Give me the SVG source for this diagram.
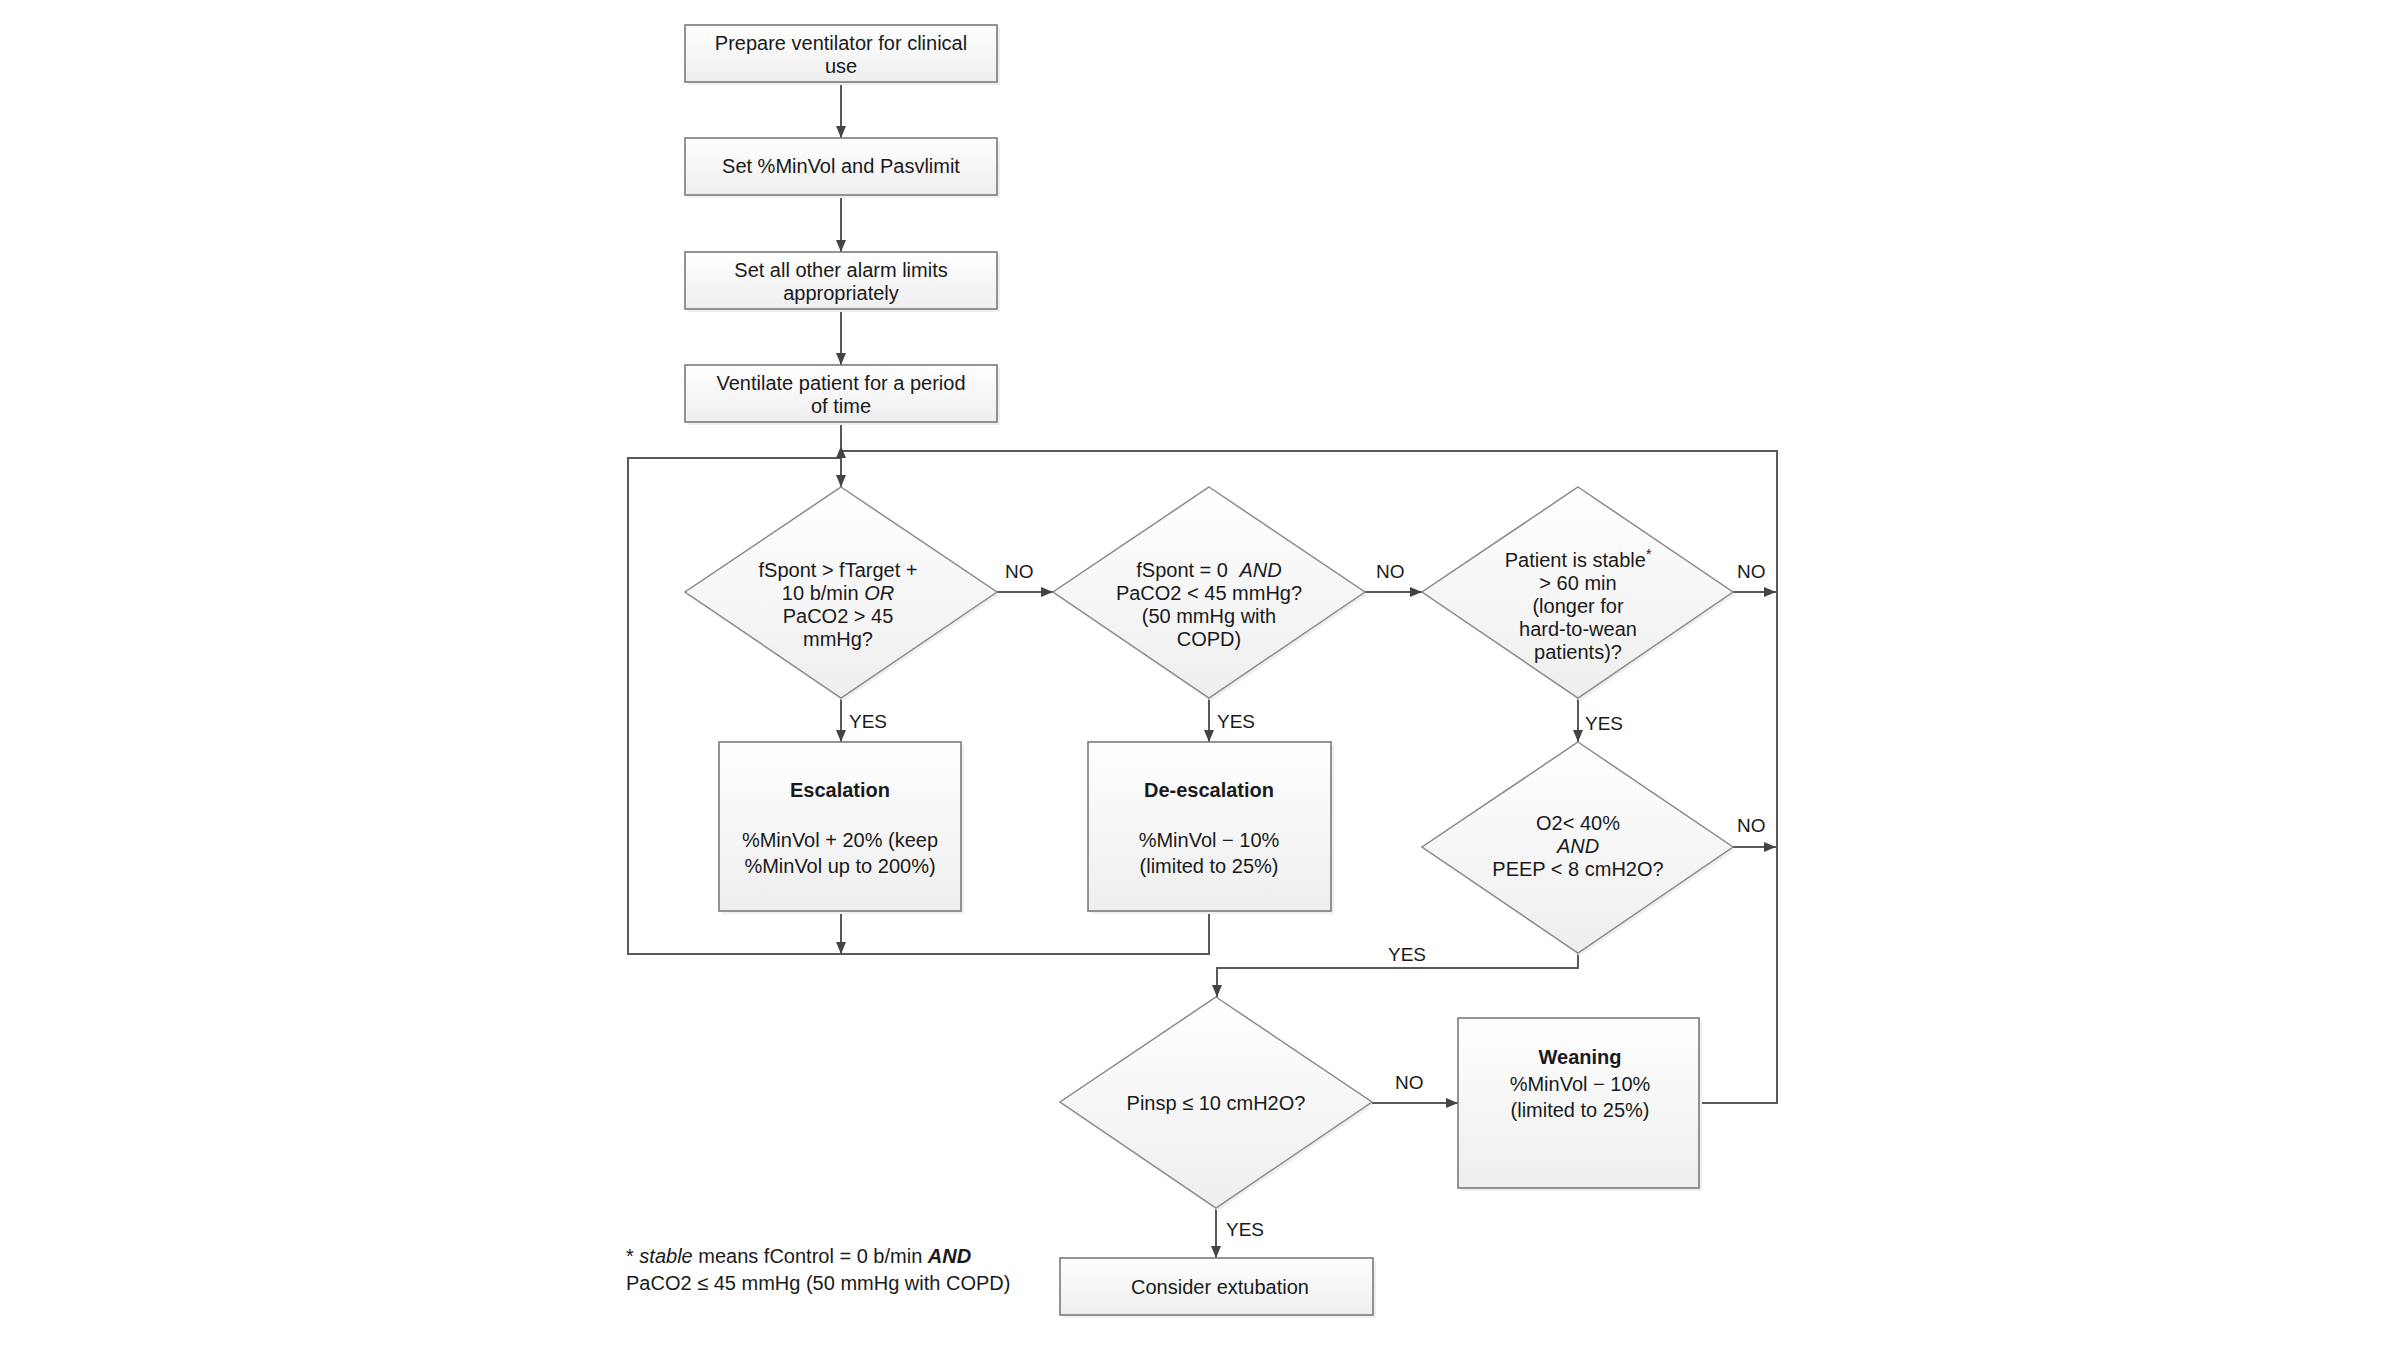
<svg xmlns="http://www.w3.org/2000/svg" width="2400" height="1350" viewBox="0 0 2400 1350">
<defs>
<linearGradient id="g" x1="0" y1="0" x2="0" y2="1">
<stop offset="0" stop-color="#ffffff"/>
<stop offset="1" stop-color="#eeeeee"/>
</linearGradient>
<marker id="ah" markerUnits="userSpaceOnUse" viewBox="0 0 12 10" refX="12" refY="5" markerWidth="12" markerHeight="10" orient="auto">
<path d="M0,0 L12,5 L0,10 z" fill="#444444"/>
</marker>
<style>
.box{fill:url(#g);stroke:#7a7a7a;stroke-width:1.6}
.dia{fill:url(#g);stroke:#8a8a8a;stroke-width:1.5}
.sh{fill:#efefef}
.t{font-family:"Liberation Sans",Arial,sans-serif;font-size:20px;fill:#1a1a1a;text-anchor:middle}
.b{font-weight:bold}
.i{font-style:italic}
.lbl{font-family:"Liberation Sans",Arial,sans-serif;font-size:19px;fill:#1a1a1a}
.fn{font-family:"Liberation Sans",Arial,sans-serif;font-size:20px;fill:#1a1a1a}
.c{fill:none;stroke:#595959;stroke-width:2}
.ca{fill:none;stroke:#595959;stroke-width:2;marker-end:url(#ah)}
</style>
</defs>
<rect width="2400" height="1350" fill="#ffffff"/>

<g id="connectors">
<path class="ca" d="M841,82 V138"/>
<path class="ca" d="M841,195 V252"/>
<path class="ca" d="M841,308 V365"/>
<path class="ca" d="M841,422 V487"/>
<path class="c" d="M1209,911 V954 H628 V458 H841"/>
<path class="ca" d="M841,911 V954"/>
<path class="ca" d="M841,698 V742"/>
<path class="ca" d="M1209,698 V742"/>
<path class="ca" d="M997,592 H1053"/>
<path class="ca" d="M1365,592 H1422"/>
<path class="ca" d="M1733,592 H1776"/>
<path class="ca" d="M1733,847 H1776"/>
<path class="ca" d="M1578,698 V742"/>
<path class="ca" d="M1578,953 V968 H1217 V997"/>
<path class="ca" d="M1372,1103 H1458"/>
<path class="ca" d="M1216,1208 V1258"/>
<path class="ca" d="M1699,1103 H1777 V451 H841 V446"/>
<text class="lbl" x="1005" y="578">NO</text>
<text class="lbl" x="1376" y="578">NO</text>
<text class="lbl" x="1737" y="578">NO</text>
<text class="lbl" x="1737" y="832">NO</text>
<text class="lbl" x="1395" y="1089">NO</text>
<text class="lbl" x="849" y="728">YES</text>
<text class="lbl" x="1217" y="728">YES</text>
<text class="lbl" x="1585" y="730">YES</text>
<text class="lbl" x="1388" y="961">YES</text>
<text class="lbl" x="1226" y="1236">YES</text>
</g>

<g id="n_prepare">
<rect class="sh" x="688" y="28" width="312" height="57"/>
<rect class="box" x="685" y="25" width="312" height="57"/>
<text class="t" x="841" y="50">Prepare ventilator for clinical</text>
<text class="t" x="841" y="73">use</text>
</g>

<g id="n_set_minvol">
<rect class="sh" x="688" y="141" width="312" height="57"/>
<rect class="box" x="685" y="138" width="312" height="57"/>
<text class="t" x="841" y="173">Set %MinVol and Pasvlimit</text>
</g>

<g id="n_alarms">
<rect class="sh" x="688" y="255" width="312" height="57"/>
<rect class="box" x="685" y="252" width="312" height="57"/>
<text class="t" x="841" y="277">Set all other alarm limits</text>
<text class="t" x="841" y="300">appropriately</text>
</g>

<g id="n_ventilate">
<rect class="sh" x="688" y="368" width="312" height="57"/>
<rect class="box" x="685" y="365" width="312" height="57"/>
<text class="t" x="841" y="390">Ventilate patient for a period</text>
<text class="t" x="841" y="413">of time</text>
</g>

<g id="n_d_fspont">
<polygon class="sh" points="843,490 999,595 843,701 687,595"/>
<polygon class="dia" points="841,487 997,592 841,698 685,592"/>
<text class="t" x="838" y="577">fSpont &gt; fTarget +</text>
<text class="t" x="838" y="600">10 b/min <tspan class="i">OR</tspan></text>
<text class="t" x="838" y="623">PaCO2 &gt; 45</text>
<text class="t" x="838" y="646">mmHg?</text>
</g>

<g id="n_d_fspont0">
<polygon class="sh" points="1211,490 1367,595 1211,701 1055,595"/>
<polygon class="dia" points="1209,487 1365,592 1209,698 1053,592"/>
<text class="t" x="1209" y="577">fSpont = 0 <tspan class="i" dx="6">AND</tspan></text>
<text class="t" x="1209" y="600">PaCO2 &lt; 45 mmHg?</text>
<text class="t" x="1209" y="623">(50 mmHg with</text>
<text class="t" x="1209" y="646">COPD)</text>
</g>

<g id="n_d_stable">
<polygon class="sh" points="1580,490 1735,595 1580,701 1424,595"/>
<polygon class="dia" points="1578,487 1733,592 1578,698 1422,592"/>
<text class="t" x="1578" y="567">Patient is stable<tspan font-size="14" dy="-8">*</tspan></text>
<text class="t" x="1578" y="590">&gt; 60 min</text>
<text class="t" x="1578" y="613">(longer for</text>
<text class="t" x="1578" y="636">hard-to-wean</text>
<text class="t" x="1578" y="659">patients)?</text>
</g>

<g id="n_d_o2">
<polygon class="sh" points="1580,745 1735,850 1580,956 1424,850"/>
<polygon class="dia" points="1578,742 1733,847 1578,953 1422,847"/>
<text class="t" x="1578" y="830">O2&lt; 40%</text>
<text class="t i" x="1578" y="853">AND</text>
<text class="t" x="1578" y="876">PEEP &lt; 8 cmH2O?</text>
</g>

<g id="n_escalation">
<rect class="sh" x="722" y="745" width="242" height="169"/>
<rect class="box" x="719" y="742" width="242" height="169"/>
<text class="t b" x="840" y="797">Escalation</text>
<text class="t" x="840" y="847">%MinVol + 20% (keep</text>
<text class="t" x="840" y="873">%MinVol up to 200%)</text>
</g>

<g id="n_deescalation">
<rect class="sh" x="1091" y="745" width="243" height="169"/>
<rect class="box" x="1088" y="742" width="243" height="169"/>
<text class="t b" x="1209" y="797">De-escalation</text>
<text class="t" x="1209" y="847">%MinVol − 10%</text>
<text class="t" x="1209" y="873">(limited to 25%)</text>
</g>

<g id="n_d_pinsp">
<polygon class="sh" points="1218,1000 1374,1105 1218,1211 1062,1105"/>
<polygon class="dia" points="1216,997 1372,1102 1216,1208 1060,1102"/>
<text class="t" x="1216" y="1110">Pinsp ≤ 10 cmH2O?</text>
</g>

<g id="n_weaning">
<rect class="sh" x="1461" y="1021" width="241" height="170"/>
<rect class="box" x="1458" y="1018" width="241" height="170"/>
<text class="t b" x="1580" y="1064">Weaning</text>
<text class="t" x="1580" y="1091">%MinVol − 10%</text>
<text class="t" x="1580" y="1117">(limited to 25%)</text>
</g>

<g id="n_extubation">
<rect class="sh" x="1063" y="1261" width="313" height="57"/>
<rect class="box" x="1060" y="1258" width="313" height="57"/>
<text class="t" x="1220" y="1294">Consider extubation</text>
</g>

<g id="footnote">
<text class="fn" x="626" y="1263">* <tspan class="i">stable</tspan> means fControl = 0 b/min <tspan class="i b">AND</tspan></text>
<text class="fn" x="626" y="1290">PaCO2 ≤ 45 mmHg (50 mmHg with COPD)</text>
</g>
</svg>
